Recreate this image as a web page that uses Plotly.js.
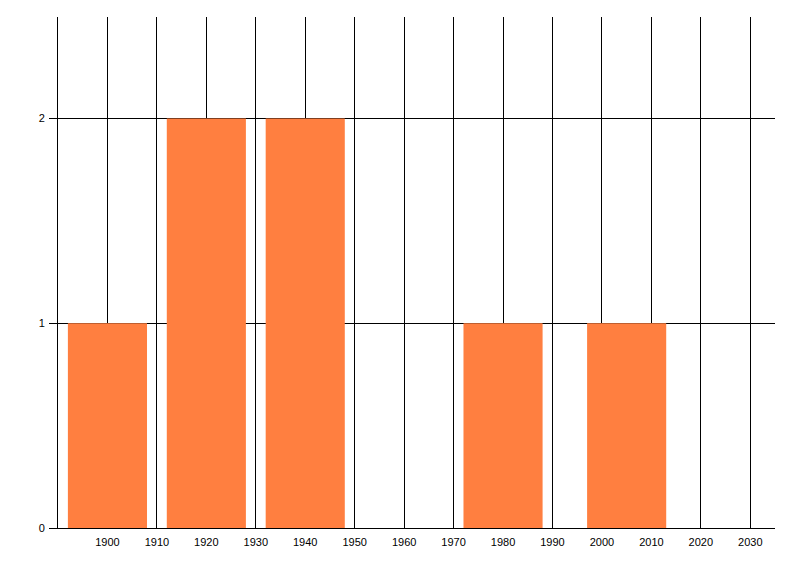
<!DOCTYPE html>
<html>
<head>
<meta charset="utf-8">
<script src="https://cdn.plot.ly/plotly-3.0.1.min.js"></script>
<style>
html,body{margin:0;padding:0;background:#fff;}
#chart{width:800px;height:576px;}
</style>
</head>
<body>
<div id="chart"></div>
<script>
var years = [1900, 1920, 1940, 1980, 2005];
var counts = [1, 2, 2, 1, 1];
var xTicks = [1900, 1910, 1920, 1930, 1940, 1950, 1960, 1970, 1980, 1990, 2000, 2010, 2020, 2030];
var xTickLabels = ["1900", "1910", "1920", "1930", "1940", "1950", "1960", "1970", "1980", "1990", "2000", "2010", "2020", "2030"];
var yTicks = [0, 1, 2];
var yTickLabels = ["0", "1", "2"];

var trace = {
  type: 'bar',
  x: years,
  y: counts,
  width: 16,
  marker: {color: '#FF7F40', line: {width: 0}},
  hoverinfo: 'none'
};

var tickFont = {family: 'Liberation Sans, Arial, sans-serif', size: 11, color: '#000'};

var layout = {
  width: 800,
  height: 576,
  margin: {l: 58, r: 25, t: 17, b: 48, pad: 0},
  paper_bgcolor: '#ffffff',
  plot_bgcolor: '#ffffff',
  showlegend: false,
  font: tickFont,
  xaxis: {
    range: [1890, 2035],
    tickmode: 'array',
    tickvals: xTicks,
    ticktext: xTickLabels,
    showgrid: true,
    gridcolor: '#000',
    gridwidth: 1,
    showline: true,
    linecolor: '#000',
    linewidth: 1,
    ticks: '',
    zeroline: false,
    ticklabelstandoff: 4,
    tickfont: tickFont
  },
  yaxis: {
    range: [0, 2.495],
    tickmode: 'array',
    tickvals: yTicks,
    ticktext: yTickLabels,
    showgrid: true,
    gridcolor: '#000',
    gridwidth: 1,
    showline: true,
    linecolor: '#000',
    linewidth: 1,
    ticks: 'outside',
    ticklen: 8,
    tickcolor: '#000',
    tickwidth: 1,
    zeroline: false,
    ticklabelstandoff: 2,
    tickfont: tickFont
  }
};

Plotly.newPlot('chart', [trace], layout, {staticPlot: true, displayModeBar: false});
</script>
</body>
</html>
